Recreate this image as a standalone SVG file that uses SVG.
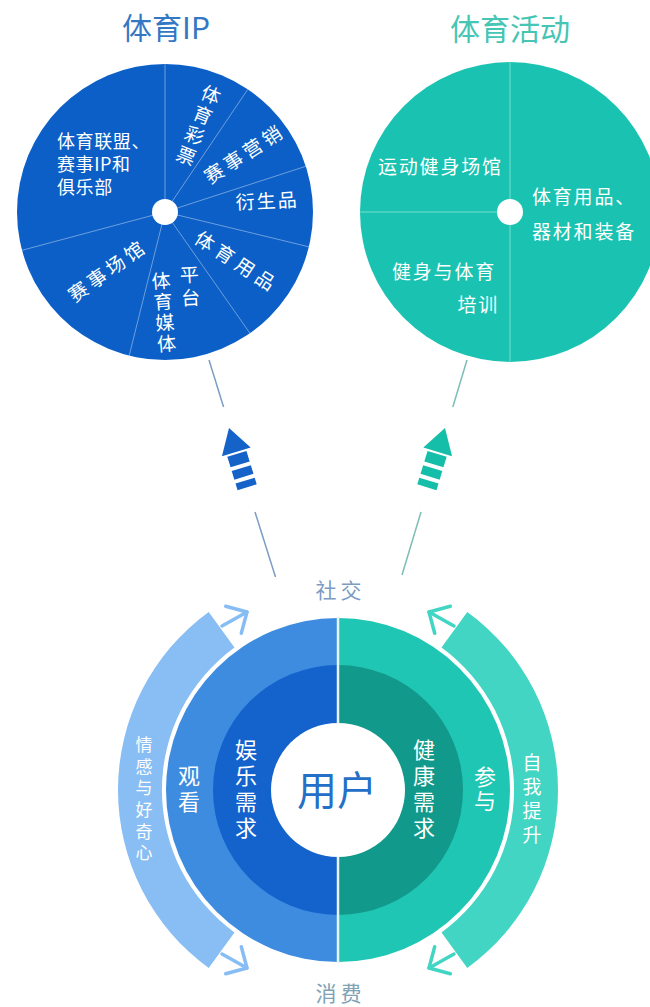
<svg xmlns="http://www.w3.org/2000/svg" width="650" height="1007" viewBox="0 0 650 1007">
<defs>
<style>
text{font-family:"Noto Sans CJK SC","Noto Sans",sans-serif;}
.c{text-anchor:middle;dominant-baseline:central}
.s{dominant-baseline:central}
.v{writing-mode:vertical-rl;text-orientation:upright;text-anchor:middle}
.w{fill:#fff}
.div{stroke:#fff;stroke-opacity:0.4;stroke-width:1;fill:none}
.pl{font-size:18px;letter-spacing:0.6px}
.pr{font-size:19px;letter-spacing:1.8px}
.rl{font-size:19px}
.lnb{stroke:#7d9dc4;stroke-width:1.5}
.lnt{stroke:#7cbdb6;stroke-width:1.5}
.arb{fill:none;stroke:#86bdf4;stroke-width:3.5;stroke-linecap:round;stroke-linejoin:round}
.art{fill:none;stroke:#42d5c3;stroke-width:3.5;stroke-linecap:round;stroke-linejoin:round}
</style>
</defs>
<rect width="650" height="1007" fill="#fff"/>

<g id="title-ip"><text class="c" x="166" y="26" font-size="30" fill="#3478c4">体育IP</text></g>
<g id="title-activity"><text class="c" x="510" y="27" font-size="30" fill="#45c5b4">体育活动</text></g>

<g id="pie-ip">
<circle cx="165" cy="212" r="148" fill="#0b5fc6"/>
<g class="div">
<line x1="165" y1="212" x2="22" y2="250.3"/>
<line x1="165" y1="212" x2="165" y2="64"/>
<line x1="165" y1="212" x2="247.8" y2="89.3"/>
<line x1="165" y1="212" x2="305.8" y2="166.3"/>
<line x1="165" y1="212" x2="308.9" y2="246.8"/>
<line x1="165" y1="212" x2="249.9" y2="333.2"/>
<line x1="165" y1="212" x2="129.2" y2="355.6"/>
</g>
<circle cx="165" cy="212" r="13" fill="#fff"/>
<g class="w">
<text class="s pl" x="57" y="140">体育联盟、</text>
<text class="s pl" x="57" y="163">赛事IP和</text>
<text class="s pl" x="57" y="186">俱乐部</text>
<text class="v rl" style="letter-spacing:3px" transform="translate(198,126.5) rotate(22)" x="0" y="0">体育彩票</text>
<text class="c rl" transform="translate(242,153) rotate(-33)"><tspan x="-34.5" y="0">赛</tspan><tspan x="-11.5" y="0">事</tspan><tspan x="11.5" y="0">营</tspan><tspan x="34.5" y="0">销</tspan></text>
<text class="c rl" transform="translate(266,199) rotate(-3)"><tspan x="-21" y="0">衍</tspan><tspan x="0" y="0">生</tspan><tspan x="21" y="0">品</tspan></text>
<text class="c rl" transform="translate(236,259) rotate(33)"><tspan x="-36" y="0">体</tspan><tspan x="-12" y="0">育</tspan><tspan x="12" y="0">用</tspan><tspan x="36" y="0">品</tspan></text>
<text class="v rl" style="letter-spacing:2px" transform="translate(164,313) rotate(-5)" x="0" y="0">体育媒体</text>
<text class="v rl" style="letter-spacing:4px" transform="translate(190,288) rotate(-3)" x="0" y="0">平台</text>
<text class="c rl" transform="translate(105,270) rotate(-35.5)"><tspan x="-34.5" y="0">赛</tspan><tspan x="-11.5" y="0">事</tspan><tspan x="11.5" y="0">场</tspan><tspan x="34.5" y="0">馆</tspan></text>
</g>
</g>

<g id="pie-activity">
<circle cx="510" cy="212" r="150" fill="#1ac3b1"/>
<line class="div" x1="510" y1="62" x2="510" y2="362"/>
<line class="div" x1="360" y1="212" x2="510" y2="212"/>
<circle cx="510" cy="212" r="13" fill="#fff"/>
<g class="w">
<text class="s pr" x="378" y="165">运动健身场馆</text>
<text class="s pr" x="532" y="195">体育用品、</text>
<text class="s pr" x="532" y="230">器材和装备</text>
<text class="s pr" x="392" y="270">健身与体育</text>
<text class="s pr" x="499" y="303" text-anchor="end">培训</text>
</g>
</g>

<g id="connectors">
<line class="lnb" x1="209" y1="360" x2="223.6" y2="407"/>
<line class="lnb" x1="255" y1="512" x2="275.5" y2="577"/>
<line class="lnt" x1="467" y1="360" x2="452.8" y2="407"/>
<line class="lnt" x1="421" y1="512" x2="402" y2="575"/>
<g transform="translate(229,428) rotate(-17)" fill="#1562c8">
<path d="M0 0 L15 25 L-15 25 Z"/>
<rect x="-10" y="27" width="20" height="11"/>
<rect x="-10" y="42" width="20" height="9"/>
<rect x="-10" y="55" width="20" height="7"/>
</g>
<g transform="translate(445,428) rotate(17)" fill="#14bea9">
<path d="M0 0 L15 25 L-15 25 Z"/>
<rect x="-10" y="27" width="20" height="11"/>
<rect x="-10" y="42" width="20" height="9"/>
<rect x="-10" y="55" width="20" height="7"/>
</g>
<polyline class="arb" points="222,626 247,612"/>
<polyline class="arb" points="225.7,606.3 247,612 241.3,633.2"/>
<polyline class="arb" points="222,954 247,968"/>
<polyline class="arb" points="225.7,973.7 247,968 241.3,946.8"/>
<polyline class="art" points="454,626 429,612"/>
<polyline class="art" points="450.3,606.3 429,612 434.7,633.2"/>
<polyline class="art" points="454,954 429,968"/>
<polyline class="art" points="450.3,973.7 429,968 434.7,946.8"/>
</g>

<g id="band-emotion">
<path d="M208.7 612 A220 220 0 0 0 208.7 968 L234.5 932.4 A176 176 0 0 1 234.5 647.6 Z" fill="#88bef4"/>
<text class="v w" font-size="17" style="letter-spacing:4.6px" x="144" y="801">情感与好奇心</text>
</g>
<g id="band-growth">
<path d="M467.3 612 A220 220 0 0 1 467.3 968 L441.5 932.4 A176 176 0 0 0 441.5 647.6 Z" fill="#42d5c3"/>
<text class="v w" font-size="19" style="letter-spacing:5px" x="532" y="801.5">自我提升</text>
</g>

<g id="ring-watch">
<path d="M338 618 A172 172 0 0 0 338 962 Z" fill="#3d8ce0"/>
<text class="v w" font-size="22" style="letter-spacing:4px" x="189" y="791">观看</text>
</g>
<g id="ring-join">
<path d="M338 618 A172 172 0 0 1 338 962 Z" fill="#20c6b4"/>
<text class="v w" font-size="22" style="letter-spacing:2px" x="485" y="790">参与</text>
</g>
<g id="need-fun">
<path d="M338 665 A125 125 0 0 0 338 915 Z" fill="#1462cc"/>
<text class="v w" font-size="22" style="letter-spacing:4px" x="246" y="791">娱乐需求</text>
</g>
<g id="need-health">
<path d="M338 665 A125 125 0 0 1 338 915 Z" fill="#11998b"/>
<text class="v w" font-size="22" style="letter-spacing:4px" x="424" y="791">健康需求</text>
</g>
<line x1="338" y1="617" x2="338" y2="963" stroke="#e6f4f4" stroke-width="2.5"/>
<g id="user">
<circle cx="338" cy="790" r="67" fill="#fff"/>
<text class="c" x="337" y="788" font-size="40" fill="#2470c8">用户</text>
</g>

<g id="label-social"><text class="c" font-size="21" fill="#7a9bc2"><tspan x="326" y="589">社</tspan><tspan x="351" y="589">交</tspan></text></g>
<g id="label-consume"><text class="c" font-size="21" fill="#7fa2b5"><tspan x="326" y="992">消</tspan><tspan x="351" y="992">费</tspan></text></g>
</svg>
